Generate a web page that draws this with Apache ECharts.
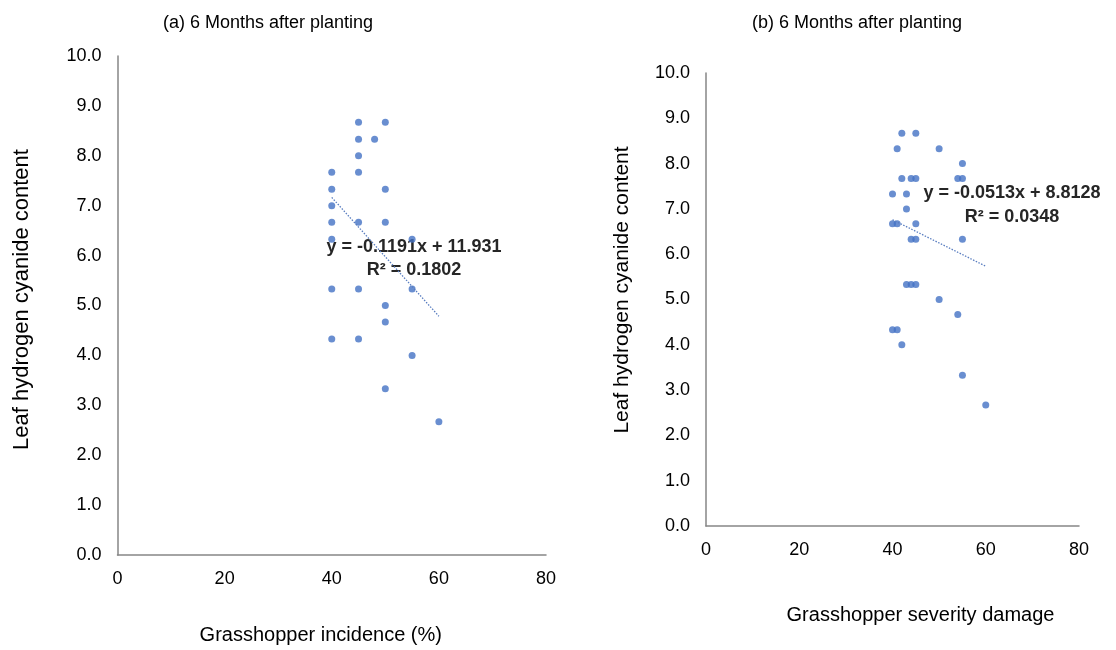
<!DOCTYPE html>
<html>
<head>
<meta charset="utf-8">
<script src="https://cdn.jsdelivr.net/npm/echarts@6/dist/echarts.min.js"></script>
<style>
  html, body { margin: 0; padding: 0; background: #fff; }
  #chart { width: 1116px; height: 650px; }
</style>
</head>
<body>
<div id="chart"></div>
<script>
// (a) incidence vs leaf HCN
const incidenceA = [45, 50, 45, 48, 45, 40, 45, 40, 50, 40, 40, 45, 50, 40, 55, 40, 45, 55, 50, 50, 40, 45, 55, 50, 60]
const hcnA = [8.67, 8.67, 8.33, 8.33, 8.0, 7.67, 7.67, 7.33, 7.33, 7.0, 6.67, 6.67, 6.67, 6.33, 6.33, 5.33, 5.33, 5.33, 5.0, 4.67, 4.33, 4.33, 4.0, 3.33, 2.67]
const trendCoefA = [-0.1191, 11.931]
const trendLabelA = ['y = -0.1191x + 11.931', 'R² = 0.1802']

// (b) severity vs leaf HCN
const severityB = [42, 45, 41, 50, 55, 42, 44, 45, 54, 55, 40, 43, 43, 40, 41, 45, 44, 45, 55, 43, 44, 45, 50, 54, 40, 41, 42, 55, 60]
const hcnB = [8.67, 8.67, 8.33, 8.33, 8.0, 7.67, 7.67, 7.67, 7.67, 7.67, 7.33, 7.33, 7.0, 6.67, 6.67, 6.67, 6.33, 6.33, 6.33, 5.33, 5.33, 5.33, 5.0, 4.67, 4.33, 4.33, 4.0, 3.33, 2.67]
const trendCoefB = [-0.0513, 8.8128]
const trendLabelB = ['y = -0.0513x + 8.8128', 'R² = 0.0348']

const titles = ['(a) 6 Months after planting', '(b) 6 Months after planting']
const xNames = ['Grasshopper incidence (%)', 'Grasshopper severity damage']
const yName = 'Leaf hydrogen cyanide content'

const FONT = 'Arial, "Liberation Sans", sans-serif'
const BLUE = '#4472C4'
const AXIS = '#868686'

function pairs(xs, ys) {
    return xs.map((x, i) => [x, ys[i]])
}

function trendLine(xs, coef) {
    const lo = Math.min(...xs), hi = Math.max(...xs)
    return [[lo, coef[0] * lo + coef[1]], [hi, coef[0] * hi + coef[1]]]
}

function xAxisOf(idx, name, gap, shift) {
    return {
        gridIndex: idx, type: 'value', min: 0, max: 80, interval: 20,
        name: name, nameLocation: 'middle', nameGap: gap,
        nameTextStyle: {fontFamily: FONT, fontSize: 20, color: '#000', padding: [0, 0, 0, shift]},
        axisLine: {show: true, lineStyle: {color: AXIS, width: 1.5}},
        axisTick: {show: false},
        splitLine: {show: false},
        axisLabel: {fontFamily: FONT, fontSize: 18, color: '#000', margin: 15}
    }
}

function yAxisOf(idx, gap, shift, size) {
    return {
        gridIndex: idx, type: 'value', min: 0, max: 10, interval: 1,
        name: yName, nameLocation: 'middle', nameGap: gap,
        nameTextStyle: {fontFamily: FONT, fontSize: size, color: '#000', padding: [0, 0, 0, shift]},
        axisLine: {show: true, lineStyle: {color: AXIS, width: 1.5}},
        axisTick: {show: false},
        splitLine: {show: false},
        axisLabel: {fontFamily: FONT, fontSize: 18, color: '#000', margin: 16, formatter: v => v.toFixed(1)}
    }
}

function dots(idx, xs, ys) {
    return {
        type: 'scatter', xAxisIndex: idx, yAxisIndex: idx,
        data: pairs(xs, ys), symbolSize: 7,
        itemStyle: {color: BLUE}
    }
}

function trend(idx, xs, coef) {
    return {
        type: 'line', xAxisIndex: idx, yAxisIndex: idx,
        data: trendLine(xs, coef), symbol: 'none', silent: true,
        lineStyle: {color: '#5a7ec0', width: 1.3, type: [1.5, 1.5]}
    }
}

const chart = echarts.init(document.getElementById('chart'))

chart.setOption({
    animation: false,
    backgroundColor: '#fff',
    title: [
        {text: titles[0], left: 263, top: 9, textAlign: 'center',
            textStyle: {fontFamily: FONT, fontSize: 18, fontWeight: 'normal', color: '#000'}},
        {text: titles[1], left: 852, top: 9, textAlign: 'center',
            textStyle: {fontFamily: FONT, fontSize: 18, fontWeight: 'normal', color: '#000'}}
    ],
    grid: [
        {left: 117.5, right: 570, top: 56, bottom: 94},
        {left: 706, right: 37, top: 73, bottom: 124}
    ],
    xAxis: [xAxisOf(0, xNames[0], 70, -22), xAxisOf(1, xNames[1], 79, 56)],
    yAxis: [yAxisOf(0, 85, 12, 22), yAxisOf(1, 73, 19, 21)],
    series: [
        dots(0, incidenceA, hcnA),
        trend(0, incidenceA, trendCoefA),
        dots(1, severityB, hcnB),
        trend(1, severityB, trendCoefB)
    ],
    graphic: [
        {type: 'text', x: 414, y: 235, style: {text: trendLabelA.join('\n'), align: 'center',
            font: 'bold 18px ' + FONT, lineHeight: 23.5, fill: '#262626'}},
        {type: 'text', x: 1012, y: 181, style: {text: trendLabelB.join('\n'), align: 'center',
            font: 'bold 18px ' + FONT, lineHeight: 24, fill: '#262626'}}
    ]
})
</script>
</body>
</html>
